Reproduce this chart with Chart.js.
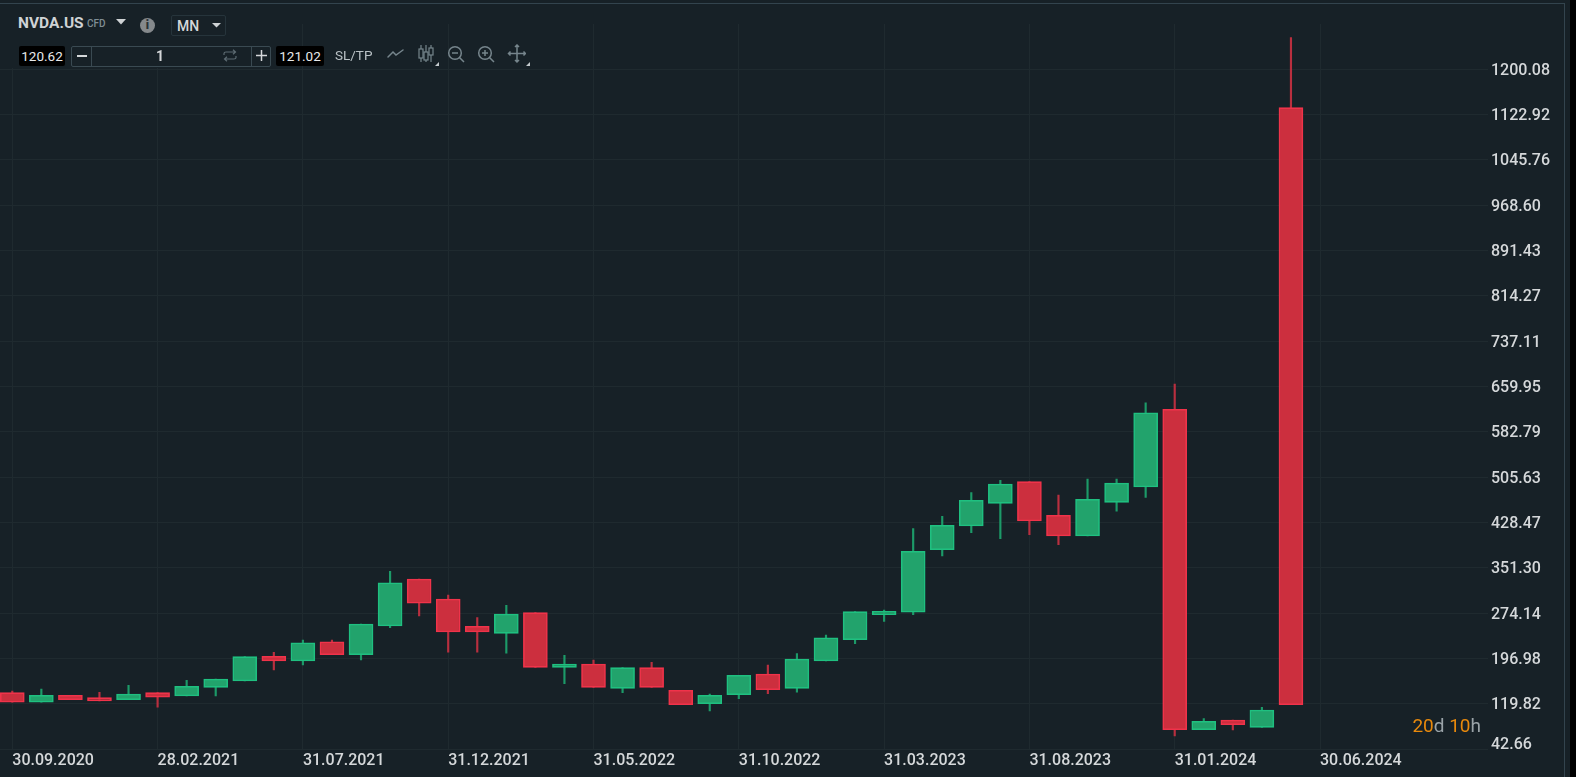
<!DOCTYPE html>
<html>
<head>
<meta charset="utf-8">
<title>NVDA.US</title>
<script src="https://cdn.jsdelivr.net/npm/chart.js@4"></script>
<style>
  html, body { margin: 0; padding: 0; background: #000; overflow: hidden; }
  body { width: 1576px; height: 777px; position: relative; font-family: Roboto, sans-serif; color: #d5d8da; }
  #panel { position: absolute; left: 0; top: 0; width: 1570px; height: 777px; background: #172127; }
  #frame { position: absolute; left: 0; top: 3px; width: 1564px; height: 774px; border-top: 1px solid #33444e; border-right: 1px solid #33444e; }
  #chart { position: absolute; left: 0; top: 0; }
  .abs { position: absolute; white-space: nowrap; }
  .price { background: #000; color: #e8eaeb; font-size: 13.5px; text-align: center; border-radius: 2px; top: 46px; height: 20px; line-height: 20px; }
  #toolbarBg { left: 0; top: 5px; width: 270px; height: 63px; background: #172127; }
</style>
</head>
<body>
<div id="panel"></div>
<canvas id="chart" width="1565" height="777"></canvas>
<div id="frame"></div>

<div class="abs" id="toolbarBg"></div>
<div class="abs" style="left:18px;top:14px;font-size:15.5px;font-weight:700;color:#cfd3d5;line-height:18px">NVDA.US</div>
<div class="abs" style="left:87px;top:18px;font-size:10px;font-weight:500;color:#7f8d94;line-height:12px">CFD</div>
<svg class="abs" style="left:116px;top:19px" width="11" height="6"><path d="M0 0H10L5 5.5Z" fill="#cfd3d5"/></svg>
<div class="abs" style="left:140px;top:18px;width:15px;height:15px;border-radius:50%;background:#85898c;color:#2a3136;font-size:12px;font-weight:900;text-align:center;line-height:15px">i</div>
<div class="abs" style="left:171px;top:15px;width:53px;height:19px;border:1px solid #26343b;border-radius:2px"></div>
<div class="abs" style="left:177px;top:17px;font-size:14px;font-weight:500;color:#d5d8da;line-height:18px">MN</div>
<svg class="abs" style="left:212px;top:23px" width="10" height="5"><path d="M0 0H9L4.5 4.5Z" fill="#cfd3d5"/></svg>

<div class="abs price" style="left:19px;width:46px">120.62</div>
<div class="abs" style="left:71px;top:46px;width:198px;height:19px;border:1px solid #3a4a52;border-radius:2px"></div>
<div class="abs" style="left:91px;top:46px;width:1px;height:20px;background:#3a4a52"></div>
<div class="abs" style="left:251px;top:46px;width:1px;height:20px;background:#3a4a52"></div>
<div class="abs" style="left:77px;top:55px;width:10px;height:1.5px;background:#d5d8da"></div>
<div class="abs" style="left:156px;top:47px;font-size:14px;font-weight:700;color:#d5d8da;line-height:19px">1</div>
<svg class="abs" style="left:223px;top:49px" width="14" height="13" fill="none" stroke="#5d6b72" stroke-width="1.2"><path d="M1 6V4.5Q1 3 3 3H12M10 .8L12.5 3L10 5.2M13 7V8.5Q13 10 11 10H2M4 7.8L1.5 10L4 12.2"/></svg>
<svg class="abs" style="left:256px;top:50px" width="11" height="11" stroke="#d5d8da" stroke-width="1.5"><path d="M5.5 0V11M0 5.5H11"/></svg>
<div class="abs price" style="left:276px;width:48px">121.02</div>
<div class="abs" style="left:335px;top:46px;font-size:13.5px;color:#b9c1c5;line-height:18px">SL/TP</div>

<svg class="abs" style="left:386px;top:44px" width="140" height="22" fill="none" stroke="#76858c" stroke-width="1.5">
  <path d="M2 13L7 8L10 11L17 6" stroke-linecap="round"/>
  <g stroke-width="1.2">
    <path d="M35 1V18M40 1V18M45 1V18"/>
    <rect x="33" y="5" width="4" height="9" fill="#172127"/>
    <rect x="38" y="8" width="4" height="8" fill="#172127"/>
    <rect x="43" y="4" width="4" height="7" fill="#172127"/>
  </g>
  <circle cx="69" cy="9" r="6.3"/><path d="M73.5 13.5L78 18M66 9H72"/>
  <circle cx="99" cy="9" r="6.3"/><path d="M103.5 13.5L108 18M96 9H102M99 6V12"/>
  <path d="M131 1V18M122.5 9.5H139.5M129 3L131 1L133 3M129 16L131 18L133 16M124.5 7.5L122.5 9.5L124.5 11.5M137.5 7.5L139.5 9.5L137.5 11.5"/>
</svg>
<svg class="abs" style="left:435px;top:62px" width="4" height="4"><path d="M4 0V4H0Z" fill="#c5cbce"/></svg>
<svg class="abs" style="left:526px;top:62px" width="4" height="4"><path d="M4 0V4H0Z" fill="#c5cbce"/></svg>

<div class="abs" style="right:95px;top:715px;font-size:19px;line-height:22px;color:#9aa3a8"><span style="color:#e8890c">20</span>d <span style="color:#e8890c">10</span>h</div>

<script>
// monthly candles
const opens  = [139.0,122.7,134.6,130.5,127.1,139.0,133.4,148.2,158.9,201.0,193.0,225.8,203.7,252.5,332.5,298.5,252.0,240.1,275.2,182.2,187.9,146.5,181.6,143.1,120.3,135.6,170.8,146.5,193.0,229.2,271.8,275.9,382.4,422.8,461.4,498.2,441.0,405.8,463.1,489.1,621.4,76.0,92.5,80.1,1134.8];
const closes = [122.7,134.6,127.1,124.9,136.8,131.2,149.9,162.3,200.3,193.0,224.1,203.7,256.0,326.2,291.2,242.3,242.3,273.0,182.2,187.9,148.2,181.6,148.2,118.6,134.6,168.6,144.1,196.4,232.6,276.9,277.6,379.7,424.0,466.5,494.3,431.3,405.8,468.2,496.0,615.6,76.0,90.3,84.5,109.6,118.6];
const highs  = [141.9,145.3,134.6,139.7,151.6,139.0,160.1,162.3,200.3,207.8,228.7,228.7,256.0,345.7,332.5,305.3,266.7,287.8,275.2,202.7,194.7,181.6,190.8,143.1,136.8,168.6,186.2,205.4,237.2,276.9,279.8,418.2,439.3,479.5,500.5,498.2,475.5,502.8,502.8,632.6,664.5,94.8,92.5,114.2,1254.0];
const lows   = [122.7,122.7,127.1,124.9,127.1,114.2,133.4,133.4,158.9,177.6,186.2,203.7,194.7,249.7,269.6,207.8,207.8,206.1,182.2,154.3,148.2,139.0,148.2,118.6,107.9,128.8,137.3,139.7,193.0,222.4,260.5,271.8,371.7,411.4,401.2,408.0,390.9,405.8,447.8,471.6,65.3,76.0,75.5,80.1,118.6];

const xTickLabels = ["30.09.2020","28.02.2021","31.07.2021","31.12.2021","31.05.2022","31.10.2022","31.03.2023","31.08.2023","31.01.2024","30.06.2024"];
const yTickLabels = [42.66,119.82,196.98,274.14,351.30,428.47,505.63,582.79,659.95,737.11,814.27,891.43,968.60,1045.76,1122.92,1200.08];
const monthsPerXTick = 5;

const greenFill = "#22a36c", greenEdge = "#1fc080", greenWick = "#1c9a68";
const redFill = "#cc2f3e", redEdge = "#f0334a", redWick = "#b92f3f";
const gridColor = "#1f2a2f", textColor = "#d5d8da";

const isUp = opens.map((o, i) => closes[i] >= o);
const pick = (up, down) => isUp.map(u => (u ? up : down));

new Chart(document.getElementById("chart"), {
  type: "bar",
  data: {
    datasets: [
      {
        label: "wick",
        data: highs.map((h, i) => ({ x: i, y: [lows[i], h] })),
        backgroundColor: pick(greenWick, redWick),
        borderWidth: 0,
        barThickness: 1.5,
        grouped: false,
        order: 2
      },
      {
        label: "body",
        data: opens.map((o, i) => ({ x: i, y: [o, closes[i]] })),
        backgroundColor: pick(greenFill, redFill),
        borderColor: pick(greenEdge, redEdge),
        borderWidth: 1.6,
        borderSkipped: false,
        barThickness: 24,
        grouped: false,
        order: 1
      }
    ]
  },
  options: {
    responsive: false,
    animation: false,
    layout: { padding: { top: 24, left: 0, right: 0, bottom: 0 } },
    plugins: { legend: { display: false }, tooltip: { enabled: false } },
    scales: {
      x: {
        type: "linear",
        offset: false,
        min: -0.423,
        max: 50.505,
        afterBuildTicks: axis => {
          axis.ticks = xTickLabels.map((_, i) => ({ value: i * monthsPerXTick }));
        },
        afterFit: axis => {
          axis.height = 27.7;
          axis.paddingLeft = 0;
          axis.paddingRight = 0;
        },
        grid: { offset: false, color: gridColor, lineWidth: 1, drawTicks: false },
        border: { display: false },
        ticks: {
          autoSkip: false,
          maxRotation: 0,
          align: "start",
          padding: 2,
          color: textColor,
          font: { family: "Roboto", size: 16, weight: "500" },
          callback: v => xTickLabels[v / monthsPerXTick]
        }
      },
      y: {
        position: "right",
        min: 42.66,
        max: 1277.24,
        afterBuildTicks: axis => {
          axis.ticks = yTickLabels.map(v => ({ value: v }));
        },
        afterFit: axis => {
          axis.width = 85;
          axis.paddingTop = 0;
          axis.paddingBottom = 0;
        },
        grid: { color: gridColor, lineWidth: 1, tickLength: 8 },
        border: { display: false },
        ticks: {
          autoSkip: false,
          padding: 3,
          labelOffset: 1.5,
          color: textColor,
          // the lowest label sits above its line, an empty second line lifts it
          font: ctx => ({ family: "Roboto", size: 16, weight: "500", lineHeight: ctx.index === 0 ? "11px" : 1.2 }),
          callback: (v, i) => (i === 0 ? [v.toFixed(2), ""] : v.toFixed(2))
        }
      }
    }
  }
});
</script>
</body>
</html>
